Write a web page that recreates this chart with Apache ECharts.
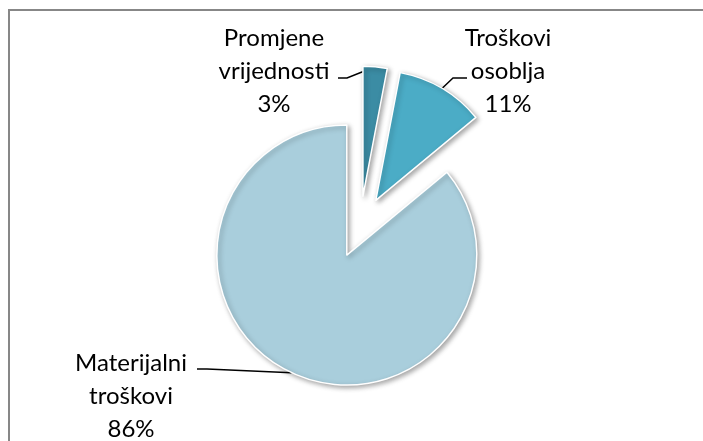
<!DOCTYPE html>
<html>
<head>
<meta charset="utf-8">
<script src="https://cdn.jsdelivr.net/npm/echarts@6/dist/echarts.min.js"></script>
<style>
  html, body { margin: 0; padding: 0; background: #fff; }
  #chart { width: 703px; height: 441px; }
</style>
</head>
<body>
<div id="chart"></div>
<script>
// Cost structure (share of total, %)
const categories = ['Promjene vrijednosti', 'Troškovi osoblja', 'Materijalni troškovi'];
const shares = [3, 11, 86];
const sliceColors = ['#3B8CA4', '#4BACC6', '#A9CEDC'];

// Label block anchors and leader-line bends (relative to the label centre)
const labelSpots = [
  { x: 274, y: 71, knee: [73, 7], end: [64, 7] },
  { x: 508, y: 71, knee: [-55, 7], end: [-41, 7] },
  { x: 131, y: 396, knee: [76, -27], end: [66, -27] }
];

const pieCenter = [360, 227];
const pieRadius = 130;
const explode = 31;

const chart = echarts.init(document.getElementById('chart'), null, { renderer: 'canvas' });

const total = shares.reduce((a, b) => a + b, 0);

// One series per slice, so each slice can be pulled out along its own bisector
const series = categories.map((cat, k) => {
  const before = shares.slice(0, k).reduce((a, b) => a + b, 0);
  const mid = (before + shares[k] / 2) / total * Math.PI * 2;
  const center = [
    pieCenter[0] + explode * Math.sin(mid),
    pieCenter[1] - explode * Math.cos(mid)
  ];
  return {
    type: 'pie',
    silent: true,
    center: center,
    radius: pieRadius,
    startAngle: 90,
    clockwise: true,
    percentPrecision: 0,
    avoidLabelOverlap: false,
    data: categories.map((name, i) => i === k ? {
      name: name,
      value: shares[i],
      itemStyle: {
        color: sliceColors[i],
        borderColor: '#ffffff',
        borderWidth: 1.5,
        shadowBlur: 5,
        shadowOffsetX: 2,
        shadowOffsetY: 2,
        shadowColor: 'rgba(0,0,0,0.35)'
      },
      label: { show: true },
      labelLine: { show: true }
    } : {
      name: name,
      value: shares[i],
      itemStyle: { color: 'rgba(0,0,0,0)', borderWidth: 0 },
      label: { show: false },
      labelLine: { show: false }
    }),
    label: {
      position: 'outside',
      formatter: p => p.name.replace(' ', '\n') + '\n' + p.percent + '%',
      fontFamily: 'Lato, "Open Sans", sans-serif',
      fontSize: 24,
      lineHeight: 33,
      color: '#000000'
    },
    labelLine: {
      length: 10,
      length2: 10,
      lineStyle: { color: '#000000', width: 1.5 }
    },
    labelLayout: function (p) {
      if (p.dataIndex !== k) return {};
      const s = labelSpots[p.dataIndex];
      const start = p.labelLinePoints ? p.labelLinePoints[0] : [s.x, s.y];
      return {
        x: s.x,
        y: s.y,
        align: 'center',
        verticalAlign: 'middle',
        labelLinePoints: [
          start,
          [s.x + s.knee[0], s.y + s.knee[1]],
          [s.x + s.end[0], s.y + s.end[1]]
        ]
      };
    }
  };
});

chart.setOption({
  animation: false,
  backgroundColor: '#ffffff',
  graphic: [{
    type: 'rect',
    silent: true,
    shape: { x: 9, y: 10, width: 800, height: 500 },
    style: { fill: 'none', stroke: '#878787', lineWidth: 2 }
  }],
  series: series
});
</script>
</body>
</html>
